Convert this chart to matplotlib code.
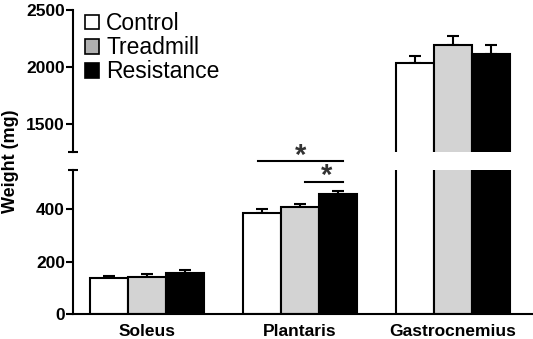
import matplotlib
matplotlib.use("Agg")
import matplotlib.pyplot as plt
import numpy as np
from matplotlib.patches import Patch

plt.rcParams["font.family"] = ["Liberation Sans", "DejaVu Sans"]

muscles = ["Soleus", "Plantaris", "Gastrocnemius"]
groups = ["Control", "Treadmill", "Resistance"]
control = [138, 386, 2030]
control_err = [7, 15, 68]
treadmill = [143, 409, 2190]
treadmill_err = [10, 12, 82]
resistance = [157, 459, 2115]
resistance_err = [11, 11, 76]

lower_lim = (0, 550)
upper_lim = (1250, 2500)
lower_ticks = [0, 200, 400]
upper_ticks = [1500, 2000, 2500]

# significance brackets (x from, x to, y)
sig_lines = [(0.725, 1.28, 585), (1.03, 1.28, 505)]
sig_stars = [(1.0, 575), (1.17, 495)]

values = [control, treadmill, resistance]
errors = [control_err, treadmill_err, resistance_err]
fills = ["white", "#d3d3d3", "black"]
legend_fills = ["white", "#b0b0b0", "black"]

W, H = 533, 339
fig = plt.figure(figsize=(W / 100, H / 100), dpi=100)
left = 72.7 / W
width = (532 - 72.7) / W
ax_lo = fig.add_axes([left, 1 - 314 / H, width, (314 - 170) / H])
ax_hi = fig.add_axes([left, 1 - 152 / H, width, (152 - 10) / H])
ax_hi.patch.set_visible(False)

x = np.arange(len(muscles))
bw = 0.25
lw = 1.5
for ax in (ax_lo, ax_hi):
    for i, (vals, errs, fc) in enumerate(zip(values, errors, fills)):
        pos = x + (i - 1) * bw
        ax.errorbar(pos, vals, yerr=[np.zeros(len(errs)), errs], fmt="none",
                    ecolor="black", elinewidth=lw, capsize=4, capthick=lw, zorder=1)
        ax.bar(pos, vals, width=bw, color=fc, edgecolor="black", linewidth=lw, zorder=2)
    ax.set_xlim(-0.486, 2.516)
    for s in ("top", "right"):
        ax.spines[s].set_visible(False)
    for s in ax.spines.values():
        s.set_linewidth(lw)
    ax.tick_params(axis="y", length=5, width=lw, pad=0.5, labelsize=12.5)

ax_lo.set_ylim(*lower_lim)
ax_lo.set_yticks(lower_ticks)
ax_lo.set_xticks(x, muscles, fontsize=12.5, fontweight="bold")
ax_lo.tick_params(axis="x", length=0, pad=7)
ax_hi.set_ylim(*upper_lim)
ax_hi.set_yticks(upper_ticks)
ax_hi.spines["bottom"].set_visible(False)
ax_hi.set_xticks([])
for ax in (ax_lo, ax_hi):
    for t in ax.get_yticklabels():
        t.set_fontweight("bold")

# axis-break caps
ax_lo.plot([-0.486], [lower_lim[1]], marker="_", markersize=7.5, mew=lw,
           color="black", clip_on=False)
ax_hi.plot([-0.486], [upper_lim[0]], marker="_", markersize=7.5, mew=lw,
           color="black", clip_on=False)

for x0, x1, y in sig_lines:
    ax_lo.plot([x0, x1], [y, y], color="black", lw=lw, clip_on=False)
for sx, sy in sig_stars:
    ax_lo.text(sx, sy, "*", ha="center", va="baseline", fontsize=21,
               fontweight="bold", color="#333333", clip_on=False)

fig.text(10.5 / W, 1 - 161 / H, "Weight (mg)", rotation=90, ha="center", va="center",
         fontsize=13, fontweight="bold")

handles = [Patch(facecolor=c, edgecolor="black", linewidth=1.2) for c in legend_fills]
fig.legend(handles, groups, loc="upper left", bbox_to_anchor=(85 / W, 1 - 12 / H),
           frameon=False, fontsize=16.5, handlelength=0.62, handleheight=0.62,
           handletextpad=0.3, labelspacing=0.05, borderpad=0, borderaxespad=0)

fig.savefig("out.png", dpi=100)
